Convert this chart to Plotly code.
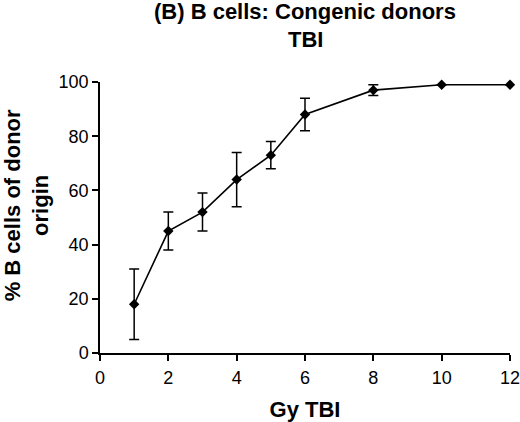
import plotly.graph_objects as go

# dose of total body irradiation (Gy) and % donor-origin B cells
dose = [1, 2, 3, 4, 5, 6, 8, 10, 12]
pct_donor = [18, 45, 52, 64, 73, 88, 97, 99, 99]
pct_err = [13, 7, 7, 10, 5, 6, 2, 0, 0]

x_ticks = [0, 2, 4, 6, 8, 10, 12]
y_ticks = [0, 20, 40, 60, 80, 100]

title_lines = ["(B) B cells: Congenic donors", "TBI"]

FONT = "Liberation Sans, Arial, sans-serif"

fig = go.Figure()
fig.add_trace(go.Scatter(
    x=dose,
    y=pct_donor,
    mode="lines+markers",
    line=dict(color="black", width=1.6),
    marker=dict(symbol="diamond", size=8, color="black"),
    error_y=dict(type="data", array=pct_err, visible=True,
                 color="black", thickness=1.5, width=5),
    cliponaxis=False,
    showlegend=False,
))

fig.update_layout(
    width=520,
    height=422,
    margin=dict(l=100, r=10, t=82, b=69),
    paper_bgcolor="white",
    plot_bgcolor="white",
    font=dict(family=FONT, size=18, color="black"),
)

fig.update_xaxes(
    range=[0, 12], tickvals=x_ticks,
    showline=True, linecolor="black", linewidth=1.5,
    ticks="outside", ticklen=6, tickwidth=1.5, tickcolor="black",
    ticklabeloverflow="allow", ticklabelstandoff=2, automargin=False,
    showgrid=False, zeroline=False,
    title=dict(text="<b>Gy TBI</b>", standoff=19,
               font=dict(family=FONT, size=22)),
)
fig.update_yaxes(
    range=[0, 100], tickvals=y_ticks,
    showline=True, linecolor="black", linewidth=1.5,
    ticks="outside", ticklen=6, tickwidth=1.5, tickcolor="black",
    automargin=False,
    showgrid=False, zeroline=False,
)

# title drawn as two lines, a bit tighter than plotly's default spacing
for line, ypos in zip(title_lines, [1.208, 1.102]):
    fig.add_annotation(
        text=f"<b>{line}</b>",
        xref="paper", yref="paper", x=0.5, y=ypos,
        xanchor="center", yanchor="bottom", showarrow=False,
        font=dict(family=FONT, size=22, color="black"),
    )

# y axis title as annotation (sits a little above the axis centre)
fig.add_annotation(
    text="<b>% B cells of donor<br>origin</b>",
    xref="paper", yref="paper", x=-0.178, y=0.545,
    xanchor="center", yanchor="middle",
    textangle=-90, showarrow=False,
    font=dict(family=FONT, size=22, color="black"),
)

# drop the default 8px body margin so the figure fills the window
fig.write_html("out.html", config={"displayModeBar": False},
               post_script="document.body.style.margin='0';")
